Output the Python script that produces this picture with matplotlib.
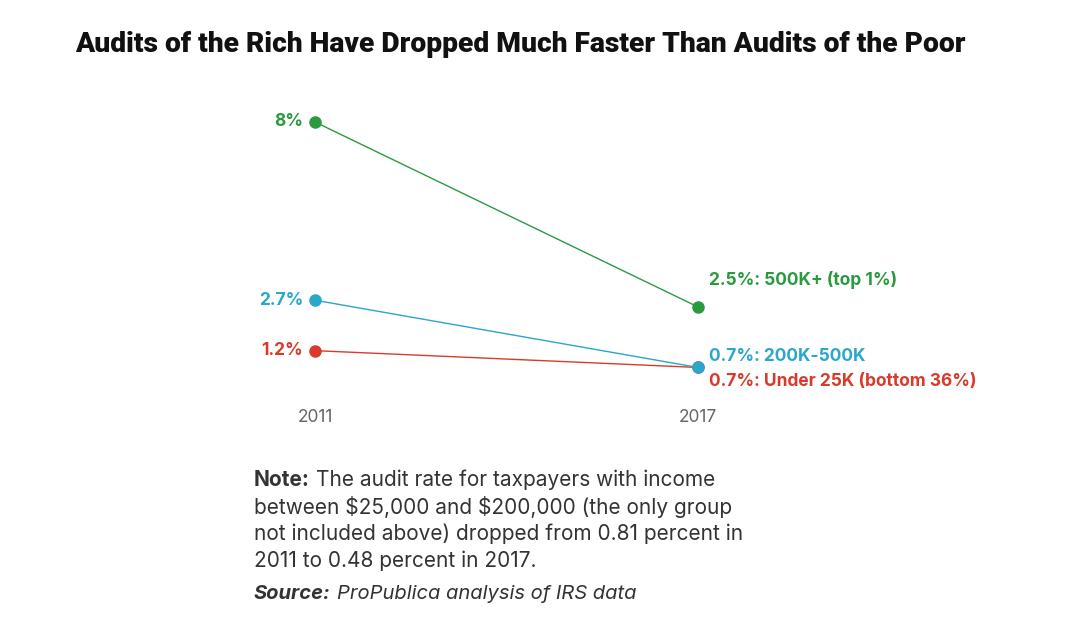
import matplotlib
matplotlib.use('Agg')
import matplotlib.pyplot as plt

years = [2011, 2017]
groups = ['500K+ (top 1%)', '200K-500K', 'Under 25K (bottom 36%)']
rates_2011 = [8.0, 2.7, 1.2]
rates_2017 = [2.5, 0.7, 0.7]
start_labels = ['8%', '2.7%', '1.2%']
end_labels = ['2.5%', '0.7%', '0.7%']
colors = ['#2b9a3f', '#2aa7c9', '#d93a2c']

title = 'Audits of the Rich Have Dropped Much Faster Than Audits of the Poor'
note_head = 'The audit rate for taxpayers with income'
note_rest = ['between $25,000 and $200,000 (the only group',
             'not included above) dropped from 0.81 percent in',
             '2011 to 0.48 percent in 2017.']
source = 'ProPublica analysis of IRS data'

W, H = 1066, 630
fig = plt.figure(figsize=(W / 100, H / 100), dpi=100)
fig.patch.set_facecolor('white')

# axes box spans the two years and 0..8 percent
ax = fig.add_axes([315 / W, 1 - 391 / H, (698 - 315) / W, (391 - 122) / H])
ax.set_xlim(years[0], years[1])
ax.set_ylim(0, 8)
ax.axis('off')

font = 'Inter'
end_offsets = [27, 11, -14]  # pixel shifts so labels don't collide

for i in range(len(groups)):
    ax.plot(years, [rates_2011[i], rates_2017[i]], color=colors[i], lw=1,
            marker='o', ms=8, clip_on=False, zorder=3 - i * 0.1)
    ax.annotate(start_labels[i], (years[0], rates_2011[i]), xytext=(-12, 0),
                textcoords='offset pixels', ha='right', va='center',
                color=colors[i], fontsize=12.5, fontweight='bold', family=font)
    ax.annotate(f'{end_labels[i]}: {groups[i]}', (years[1], rates_2017[i]),
                xytext=(11, end_offsets[i]),
                textcoords='offset pixels', ha='left', va='center',
                color=colors[i], fontsize=12.5, fontweight='bold', family=font)

for y in years:
    ax.annotate(str(y), (y, 0), xytext=(0, -27), textcoords='offset pixels',
                ha='center', va='center', color='#666666', fontsize=12.5,
                family=font, annotation_clip=False)

t = fig.text(75 / W, 1 - 44 / H, title, ha='left', va='center', fontsize=18,
             fontweight='heavy', family='Roboto', color='#111111')
fig.canvas.draw()
r = fig.canvas.get_renderer()
# fit title width to the reference (about 892 px)
t.set_fontsize(18 * 892 / t.get_window_extent(r).width)

x0 = 254 / W
fs = 15
nh = fig.text(x0, 1 - 480 / H, 'Note:', ha='left', va='center', fontsize=fs,
              fontweight='bold', family=font, color='#333333')
fig.canvas.draw()
bx = fig.transFigure.inverted().transform((nh.get_window_extent(r).x1 + 6, 0))[0]
fig.text(bx, 1 - 480 / H, note_head, ha='left', va='center', fontsize=fs,
         family=font, color='#333333')
for k, line in enumerate(note_rest):
    fig.text(x0, 1 - (507 + 26.7 * k) / H, line, ha='left', va='center',
             fontsize=fs, family=font, color='#333333', parse_math=False)

sh = fig.text(x0, 1 - 594 / H, 'Source:', ha='left', va='center', fontsize=14.5,
              fontweight='bold', style='italic', family=font, color='#333333')
fig.canvas.draw()
bx = fig.transFigure.inverted().transform((sh.get_window_extent(r).x1 + 6, 0))[0]
fig.text(bx, 1 - 594 / H, source, ha='left', va='center', fontsize=14.5,
         style='italic', family=font, color='#333333')

fig.savefig('out.png', dpi=100)
